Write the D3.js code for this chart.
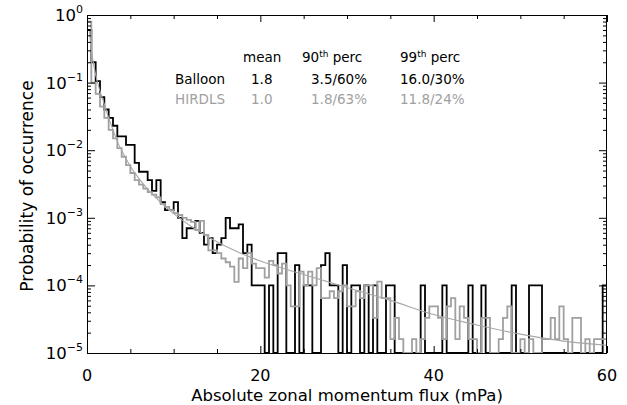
<!DOCTYPE html>
<html>
<head>
<meta charset="utf-8">
<title>Absolute zonal momentum flux PDF</title>
<script src="https://d3js.org/d3.v7.min.js"></script>
<style>
  body { margin: 0; background: #fff; }
  svg { display: block; font-family: "DejaVu Sans", sans-serif; }
</style>
</head>
<body>
<script>
// histogram bins are 0.5 mPa wide, starting at 0
var binWidth = 0.5;

// Balloon (black) probability per bin
var balloon = [
  0.6, 0.2, 0.105, 0.061, 0.040, 0.030, 0.023, 0.016, 0.016, 0.012,
  0.012, 0.0065, 0.0048, 0.0048, 0.0036, 0.0025, 0.0036, 0.0017, 0.0013, 0.0013,
  0.0017, 0.0010, 0.0005, 0.0007, 0.0007, 0.0009, 0.0006, 0.0004, 0.0005, 0.0003,
  0.0004, 0.0005, 0.0010, 0.0007, 0.0007, 0.0008, 0.0003, 0.0004, 0.0001, 0.0001,
  0.0001, 0, 0.0001, 0, 0.0003, 0.0003, 0, 0, 0.0002, 0,
  0.0001, 0.0001, 0, 0, 0.0002, 0.0003, 0.0001, 0.0001, 0, 0.0002,
  0, 0.0001, 0.0001, 0, 0.0001, 0, 0.0001, 0, 0, 0.0001,
  0.0001, 0, 0, 0, 0, 0, 0, 0.0001, 0, 0,
  0, 0, 0.0001, 0, 0, 0, 0, 0, 0.0001, 0,
  0, 0.0001, 0, 0, 0, 0, 0, 0, 0.0001, 0,
  0, 0, 0.0001, 0.0001, 0.0001, 0, 0, 0, 0, 0,
  0, 0, 0, 0, 0, 0, 0, 0, 0, 0.0001
];

// HIRDLS (grey) probability per bin
var hirdls = [
  0.8, 0.10, 0.068, 0.044, 0.030, 0.020, 0.015, 0.0107, 0.008, 0.006,
  0.0046, 0.0036, 0.0031, 0.0027, 0.0024, 0.0022, 0.0020, 0.0016, 0.00145, 0.0013,
  0.00117, 0.0011, 0.0010, 0.00093, 0.00087, 0.00066, 0.0009, 0.00056, 0.00033, 0.00033,
  0.00030, 0.00025, 0.00022, 0.00019, 0.000113, 0.00025, 0.00018, 0.0003, 0.00021, 0.00018,
  0.00018, 0.00013, 0.00023, 0.0002, 0.00015, 0.00021, 0.0001, 0.000049, 0.000049, 0.00016,
  0.0001, 0.00016, 0.0001, 0.00018, 0.000065, 0.000065, 0.000082, 0.000065, 0.000082, 0.0001,
  0.000049, 0.000049, 0.000082, 0.000065, 0.0001, 0.0001, 0.000033, 0.000114, 0.000065, 0.000065,
  0.000016, 0.000033, 0.000016, 0, 0, 0.000016, 0, 0.000016, 0.000033, 0.000049,
  0.000049, 0.000033, 0.000016, 0.000049, 0.000065, 0.000016, 0.000049, 0.000033, 0.000016, 0.000016,
  0, 0.000033, 0.000033, 0, 0, 0.000016, 0.000033, 0.000049, 0, 0,
  0.000016, 0, 0.000016, 0, 0, 0.000016, 0.000016, 0.000033, 0.000016, 0.000049,
  0.000016, 0, 0.000033, 0.000033, 0, 0.000016, 0, 0.000016, 0.000016, 0.000016
];

// smooth grey fit curve
var fitX = [0.25, 0.6, 1, 1.5, 2, 2.5, 3, 3.5, 4, 5, 6, 7, 8, 9, 10, 12, 14, 16, 18, 20,
            25, 30, 35, 40, 45, 50, 55, 60];
var fitY = [0.6, 0.25, 0.13, 0.075, 0.048, 0.03, 0.02, 0.0134, 0.0099, 0.0058, 0.0038, 0.00265,
            0.00195, 0.00148, 0.00115, 0.00075, 0.00052, 0.00038, 0.00029, 0.00023,
            0.000145, 0.000093, 0.00006, 0.000037, 0.000026, 0.000019, 0.000015, 0.000013];

var xTicks = [0, 20, 40, 60];
var xMinor = [5, 10, 15, 25, 30, 35, 45, 50, 55];
var yTicks = [1, 1e-1, 1e-2, 1e-3, 1e-4, 1e-5];
var yExp = ["0", "\u22121", "\u22122", "\u22123", "\u22124", "\u22125"];

var rowNames = ["Balloon", "HIRDLS"];
var rowMean = ["1.8", "1.0"];
var rowP90 = ["3.5/60%", "1.8/63%"];
var rowP99 = ["16.0/30%", "11.8/24%"];
var rowColor = ["#000", "#a0a0a0"];

var W = 627, H = 405;
var pl = 87, pr = 607, pt = 15, pb = 353;

var svg = d3.select("body").append("svg")
  .attr("width", W).attr("height", H);

var x = d3.scaleLinear().domain([0, 60]).range([pl, pr]);
var y = d3.scaleLog().domain([1e-5, 1]).range([pb, pt]);

// minor log ticks
var yMinor = [];
yTicks.slice(1).forEach(function(d){
  for (var k = 2; k <= 9; k++) yMinor.push(d * k);
});

function stepPoints(vals){
  var pts = vals.map(function(v, i){ return [i * binWidth, v]; });
  pts.push([vals.length * binWidth, vals[vals.length - 1]]);
  return pts;
}

var step = d3.line()
  .x(function(d){ return x(d[0]); })
  .y(function(d){ return y(Math.max(d[1], 1e-5)); })
  .curve(d3.curveStepAfter);

svg.append("path")
  .attr("d", step(stepPoints(balloon)))
  .attr("fill", "none")
  .attr("stroke", "#000")
  .attr("stroke-width", 1.8);

svg.append("path")
  .attr("d", step(stepPoints(hirdls)))
  .attr("fill", "none")
  .attr("stroke", "#a0a0a0")
  .attr("stroke-width", 1.8);

var fit = d3.line()
  .x(function(d, i){ return x(fitX[i]); })
  .y(function(d){ return y(d); })
  .curve(d3.curveMonotoneX);

svg.append("path")
  .attr("d", fit(fitY))
  .attr("fill", "none")
  .attr("stroke", "#a8a8a8")
  .attr("stroke-width", 1.1);

// axes, ticks inside the frame
function tickAxis(axis, tx, ty, size){
  var g = svg.append("g").attr("transform", "translate(" + tx + "," + ty + ")")
    .call(axis.tickSize(size).tickSizeOuter(0).tickFormat(""));
  g.select(".domain").remove();
  g.selectAll("line").attr("stroke", "#000");
}
tickAxis(d3.axisBottom(x).tickValues(xTicks), 0, pb, -7);
tickAxis(d3.axisBottom(x).tickValues(xMinor), 0, pb, -4);
tickAxis(d3.axisTop(x).tickValues(xTicks), 0, pt, -7);
tickAxis(d3.axisTop(x).tickValues(xMinor), 0, pt, -4);
tickAxis(d3.axisLeft(y).tickValues(yTicks), pl, 0, -8);
tickAxis(d3.axisLeft(y).tickValues(yMinor), pl, 0, -4);
tickAxis(d3.axisRight(y).tickValues(yTicks), pr, 0, -8);
tickAxis(d3.axisRight(y).tickValues(yMinor), pr, 0, -4);

svg.append("rect")
  .attr("x", pl + 0.5).attr("y", pt + 0.5)
  .attr("width", pr - pl - 1).attr("height", pb - pt)
  .attr("fill", "none").attr("stroke", "#000").attr("stroke-width", 1);

// tick labels
svg.selectAll(".xl").data(xTicks).enter().append("text")
  .attr("x", function(d){ return x(d); })
  .attr("y", 381)
  .attr("text-anchor", "middle")
  .attr("font-size", 16)
  .text(function(d){ return d; });

var yl = svg.selectAll(".yl").data(yTicks).enter().append("text")
  .attr("x", 83)
  .attr("y", function(d){ return y(d) + 6; })
  .attr("text-anchor", "end")
  .attr("font-size", 16.5);
yl.append("tspan").text("10");
yl.append("tspan").attr("dy", -8).attr("font-size", 11)
  .text(function(d, i){ return yExp[i]; });

svg.append("text")
  .attr("x", (pl + pr) / 2).attr("y", 401)
  .attr("text-anchor", "middle")
  .attr("font-size", 16.5)
  .text("Absolute zonal momentum flux (mPa)");

svg.append("text")
  .attr("transform", "translate(33," + ((pt + pb) / 2 + 2) + ") rotate(-90)")
  .attr("text-anchor", "middle")
  .attr("font-size", 17)
  .text("Probability of occurrence");

// stats table
var fs = 13.5;
svg.append("text").attr("x", 243).attr("y", 62).attr("font-size", fs).text("mean");
[["90", 302], ["99", 400]].forEach(function(h){
  var t = svg.append("text").attr("x", h[1]).attr("y", 62).attr("font-size", fs);
  t.append("tspan").text(h[0]);
  t.append("tspan").attr("dy", -5).attr("font-size", 9).text("th");
  t.append("tspan").attr("dy", 5).text(" perc");
});

rowNames.forEach(function(name, i){
  var by = 84 + i * 19.5;
  svg.append("text").attr("x", 175).attr("y", by).attr("font-size", fs)
    .attr("fill", rowColor[i]).text(name);
  svg.append("text").attr("x", 251).attr("y", by).attr("font-size", fs)
    .attr("fill", rowColor[i]).text(rowMean[i]);
  svg.append("text").attr("x", 311).attr("y", by).attr("font-size", fs)
    .attr("fill", rowColor[i]).text(rowP90[i]);
  svg.append("text").attr("x", 400).attr("y", by).attr("font-size", fs)
    .attr("fill", rowColor[i]).text(rowP99[i]);
});
</script>
</body>
</html>
